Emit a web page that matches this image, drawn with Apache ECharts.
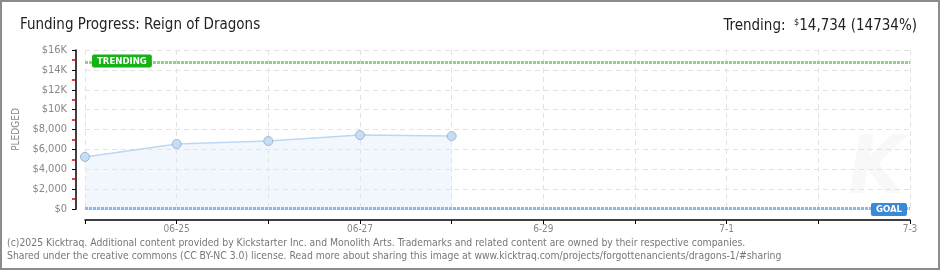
<!DOCTYPE html>
<html><head><meta charset="utf-8">
<script src="https://cdn.jsdelivr.net/npm/echarts@6/dist/echarts.min.js"></script>
<style>
html,body{margin:0;padding:0;background:#fff;}
#wrap{width:940px;height:270px;position:relative;}
#c{width:940px;height:270px;}
#b{position:absolute;left:0;top:0;width:940px;height:270px;box-sizing:border-box;border:2px solid #8c8c8c;pointer-events:none;}
</style></head><body>
<div id="wrap"><div id="c"></div><div id="b"></div></div>
<script>
const days = ['06-24','06-25','06-26','06-27','06-28','6-29','6-30','7-1','7-2','7-3'];
const pledged = [5240, 6540, 6840, 7440, 7340];
const trendingValue = 14734;
const goalValue = 100;
const yTickLabels = ['$0','$2,000','$4,000','$6,000','$8,000','$10K','$12K','$14K','$16K'];
const titleText = 'Funding Progress: Reign of Dragons';
const footer1 = '(c)2025 Kicktraq. Additional content provided by Kickstarter Inc. and Monolith Arts. Trademarks and related content are owned by their respective companies.';
const footer2 = 'Shared under the creative commons (CC BY-NC 3.0) license. Read more about sharing this image at www.kicktraq.com/projects/forgottenancients/dragons-1/#sharing';

const chart = echarts.init(document.getElementById('c'), null, {renderer:'canvas'});
const font = '"DejaVu Sans Condensed","DejaVu Sans",sans-serif';
chart.setOption({
  animation:false,
  textStyle:{fontFamily:font},
  title:[
    {text:titleText,left:15,top:13,textStyle:{fontSize:15,fontWeight:'normal',color:'#222',fontFamily:font}},
    {text:'{a|Trending:  }{s|$}{a|14,734 (14734%)}',right:18,top:13,
     textStyle:{fontWeight:'normal',rich:{a:{fontSize:15,fontWeight:'normal',color:'#222',fontFamily:font},s:{fontSize:9,fontWeight:'normal',color:'#222',verticalAlign:'top',padding:[0,0,7,0],fontFamily:font}}}}
  ],
  graphic:[
    {type:'text',left:7,top:238,style:{text:footer1,fontSize:10.35,fill:'#777',fontFamily:font}},
    {type:'text',left:7,top:251,style:{text:footer2,fontSize:10.35,fill:'#777',fontFamily:font}},
    {type:'text',right:36,top:132,z:0,style:{text:'K',fontSize:80,fontStyle:'italic',fontWeight:'bold',fill:'#f8f8f8',fontFamily:font}}
  ],
  grid:{left:85,right:30,top:50,bottom:61},
  xAxis:{
    type:'category',data:days,boundaryGap:false,offset:11,
    axisLine:{onZero:false,lineStyle:{color:'#000',width:1.5}},
    axisTick:{show:true,length:4,lineStyle:{color:'#000'},interval:0},
    axisLabel:{interval:(i)=>i%2===1,color:'#888',fontSize:10,margin:4},
    splitLine:{show:true,interval:0,lineStyle:{color:'#e2e2e2',type:[5,4]}}
  },
  yAxis:{
    type:'value',min:0,max:16000,interval:2000,offset:9,
    name:'PLEDGED',nameLocation:'middle',nameGap:48,nameRotate:90,
    nameTextStyle:{color:'#888',fontSize:10},
    axisLine:{show:true,onZero:false,lineStyle:{color:'#000',width:1.5}},
    axisTick:{show:true,length:4,lineStyle:{color:'#000'}},
    minorTick:{show:true,splitNumber:2,length:4,lineStyle:{color:'#e00000',width:1.5}},
    axisLabel:{color:'#888',fontSize:11,margin:9,formatter:(v)=>yTickLabels[Math.round(v/2000)]},
    splitLine:{show:true,lineStyle:{color:'#e2e2e2',type:[5,4]}}
  },
  series:[{
    type:'line',data:pledged,symbol:'circle',symbolSize:9,
    lineStyle:{color:'#bcd7f3',width:1.5},
    itemStyle:{color:'#c6ddf6',borderColor:'#9fb6cf',borderWidth:1},
    areaStyle:{color:'rgba(222,235,250,0.55)'},
    markLine:{
      silent:true,symbol:'none',
      data:[
        {yAxis:trendingValue,lineStyle:{color:'#8ed47e',width:3,type:[3,1]},
         label:{show:true,formatter:'TRENDING',position:'insideStartTop',distance:-7,offset:[14,-2],
           color:'#fff',fontSize:9.5,fontWeight:'bold',backgroundColor:'#15b215',padding:[2,5,1,5],borderRadius:2}},
        {yAxis:goalValue,lineStyle:{color:'#8ab8e8',width:3,type:[3,1]},
         label:{show:true,formatter:'GOAL',position:'insideEndTop',distance:-7,offset:[-10,1],
           color:'#fff',fontSize:9.5,fontWeight:'bold',backgroundColor:'#3a88d6',padding:[2,5,1,5],borderRadius:2}}
      ]
    }
  }]
});
</script></body></html>
